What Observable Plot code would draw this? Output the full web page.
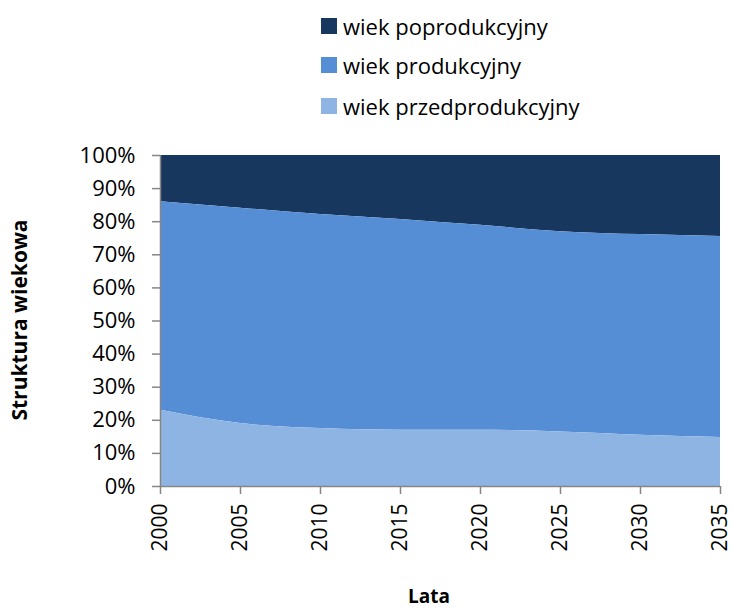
<!DOCTYPE html>
<html>
<head>
<meta charset="utf-8">
<script src="https://cdn.jsdelivr.net/npm/d3@7"></script>
<script src="https://cdn.jsdelivr.net/npm/@observablehq/plot@0.6"></script>
<style>
  body { margin: 0; background: #fff; }
  #wrap { position: relative; width: 732px; height: 609px; font-family: "Open Sans", Lato, sans-serif; }
  .leg { position: absolute; left: 321px; display: flex; align-items: center; font-size: 22px; color: #000; white-space: nowrap; }
  .leg span.sw { display: inline-block; width: 16px; height: 16px; margin-right: 6px; }
  #chart { position: absolute; left: 0; top: 0; }
</style>
</head>
<body>
<div id="wrap">
  <div id="chart"></div>
</div>
<script>
const years = [2000, 2005, 2010, 2015, 2020, 2025, 2030, 2035];
const groups = ["wiek poprodukcyjny", "wiek produkcyjny", "wiek przedprodukcyjny"];
const colors = ["#17375E", "#558ED5", "#8EB4E3"];
const pre  = [23, 19, 17.5, 17, 17, 16.5, 15.5, 14.8];
const prod = [63, 65.1, 64.7, 63.7, 61.9, 60.5, 60.6, 60.7];
const post = [14, 15.9, 17.8, 19.3, 21.1, 23, 23.9, 24.5];
const yTicks = [0, 10, 20, 30, 40, 50, 60, 70, 80, 90, 100];

const seriesByGroup = {
  "wiek poprodukcyjny": post,
  "wiek produkcyjny": prod,
  "wiek przedprodukcyjny": pre
};
const data = [];
for (const g of groups) {
  seriesByGroup[g].forEach((v, i) => data.push({year: years[i], group: g, value: v}));
}

const gray = "#868686";
const plot = Plot.plot({
  width: 732,
  height: 609,
  marginLeft: 160,
  marginRight: 12,
  marginTop: 155,
  marginBottom: 123,
  style: { fontFamily: "'Open Sans', Lato, sans-serif", fontSize: "20px", color: "#000", background: "#fff" },
  x: { domain: [2000, 2035], label: null },
  y: { domain: [0, 100], label: null },
  color: { domain: groups, range: colors },
  marks: [
    Plot.areaY(data, {
      x: "year", y: "value", fill: "group", z: "group",
      order: ["wiek przedprodukcyjny", "wiek produkcyjny", "wiek poprodukcyjny"],
      curve: "monotone-x"
    }),
    Plot.ruleX([2000], { stroke: gray, strokeWidth: 1.5 }),
    Plot.ruleY([0], { stroke: gray, strokeWidth: 1.5 }),
    Plot.axisY({ ticks: yTicks, tickFormat: d => d + "%", tickSize: 8, tickPadding: 17, stroke: gray, strokeWidth: 1.5, strokeOpacity: 1, fill: "#000", fontSize: 22, label: null }),
    Plot.axisX({ ticks: years, tickFormat: d => String(d), tickSize: 8, tickPadding: 9, tickRotate: -90, stroke: gray, strokeWidth: 1.5, strokeOpacity: 1, fill: "#000", fontSize: 21, label: null })
  ]
});
document.getElementById("chart").appendChild(plot);

const svg = d3.select(plot);
svg.append("text")
  .attr("transform", "translate(27,320) rotate(-90)")
  .attr("text-anchor", "middle")
  .attr("font-weight", "bold")
  .attr("font-size", "21px")
  .attr("fill", "#000")
  .text("Struktura wiekowa");
svg.append("text")
  .attr("x", 429).attr("y", 603)
  .attr("text-anchor", "middle")
  .attr("font-weight", "bold")
  .attr("font-size", "19px")
  .attr("fill", "#000")
  .text("Lata");

const wrap = document.getElementById("wrap");
const legCenters = [26, 65, 106];
groups.forEach((g, i) => {
  const d = document.createElement("div");
  d.className = "leg";
  d.style.top = (legCenters[i] - 15) + "px";
  d.style.height = "30px";
  d.innerHTML = `<span class="sw" style="background:${colors[i]}"></span>${g}`;
  wrap.appendChild(d);
});
</script>
</body>
</html>
